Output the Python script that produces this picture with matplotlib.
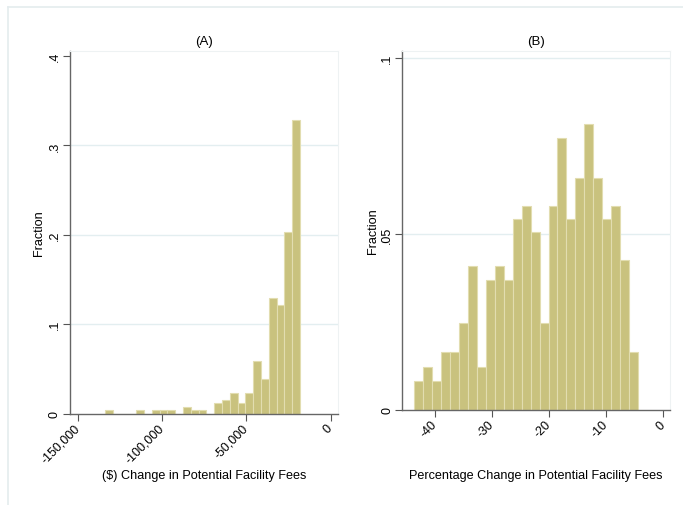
import numpy as np
import matplotlib
matplotlib.use("Agg")
import matplotlib.pyplot as plt
from matplotlib.lines import Line2D

plt.rcParams['font.family'] = ['Liberation Sans', 'DejaVu Sans']

# =========================
# data (fractions)
# =========================
# panel A: $ change, 25 bins
a_lo, a_hi = -133980, -18230
a_frac = [0.0039, 0, 0, 0, 0.0039, 0, 0.0039, 0.0039, 0.0039, 0, 0.0078, 0.0039, 0.0039,
          0, 0.0117, 0.0156, 0.0234, 0.0117, 0.0234, 0.0586, 0.0390, 0.1289, 0.1211,
          0.2031, 0.3281]
a_xticks = [-150000, -100000, -50000, 0]
a_xlabels = ['-150,000', '-100,000', '-50,000', '0']
a_yticks = [0, 0.1, 0.2, 0.3, 0.4]
a_ylabels = ['0', '.1', '.2', '.3', '.4']

# panel B: % change, 25 bins
b_lo, b_hi = -43.68, -4.44
b_frac = [0.0083, 0.0123, 0.0083, 0.0164, 0.0164, 0.0246, 0.0410, 0.0123, 0.0368,
          0.0410, 0.0368, 0.0543, 0.0580, 0.0505, 0.0246, 0.0580, 0.0774, 0.0543,
          0.0658, 0.0813, 0.0658, 0.0543, 0.0580, 0.0427, 0.0164]
b_xticks = [-40, -30, -20, -10, 0]
b_xlabels = ['-40', '-30', '-20', '-10', '0']
b_yticks = [0, 0.05, 0.1]
b_ylabels = ['0', '.05', '.1']

W, H = 683, 506
fig = plt.figure(figsize=(W / 100, H / 100), dpi=100)
fig.patch.set_facecolor('white')

# outer frame (only top/left visible)
frame_c = '#e4ecee'
fig.add_artist(Line2D([8 / W, 1], [1 - 8 / H, 1 - 8 / H], color=frame_c, lw=1.2))
fig.add_artist(Line2D([8 / W, 8 / W], [0, 1 - 8 / H], color=frame_c, lw=1.2))

bar_c = '#c9c27e'
edge_c = '#e2ddb0'
grid_c = '#e3eef0'
fs = 9


def panel(rect, lo, hi, frac, xlim, ylim, xt, xl, yt, yl, title, xlabel, grids, ylab_x):
    ax = fig.add_axes([rect[0] / W, 1 - rect[3] / H, (rect[2] - rect[0]) / W, (rect[3] - rect[1]) / H])
    edges = np.linspace(lo, hi, len(frac) + 1)
    ax.bar(edges[:-1], frac, width=edges[1] - edges[0], align='edge',
           color=bar_c, edgecolor=edge_c, linewidth=0.8, zorder=2)
    ax.set_xlim(*xlim)
    ax.set_ylim(*ylim)
    for g in grids:
        ax.axhline(g, color=grid_c, lw=1.0, zorder=1)
    ax.set_xticks(xt)
    ax.set_xticklabels(xl, rotation=45, ha='right', va='center', rotation_mode='anchor', fontsize=fs)
    ax.set_yticks(yt)
    ax.set_yticklabels(yl, rotation=90, va='center', ha='center', fontsize=fs)
    ax.tick_params(axis='x', length=5, width=0.8, color='#555555', pad=4)
    ax.tick_params(axis='y', length=5, width=0.8, color='#555555', pad=6)
    for s in ['top', 'right']:
        ax.spines[s].set_color('#eef2f3')
        ax.spines[s].set_linewidth(0.8)
    for s in ['left', 'bottom']:
        ax.spines[s].set_color('#666666')
        ax.spines[s].set_linewidth(1.0)
    ax.set_title(title, fontsize=fs + 0.5, pad=5)
    cx = (rect[0] + rect[2]) / 2 / W
    fig.text(cx, 1 - 476 / H, xlabel, fontsize=fs + 0.1, ha='center', va='center')
    cy = 1 - (rect[1] + rect[3]) / 2 / H
    fig.text(ylab_x / W, cy, 'Fraction', fontsize=fs + 0.1, rotation=90, ha='center', va='center')
    return ax


panel((70, 51.7, 338.3, 414.7), a_lo, a_hi, a_frac, (-154800, 4510), (0, 0.406),
      a_xticks, a_xlabels, a_yticks, a_ylabels, '(A)',
      '($) Change in Potential Facility Fees', [0.1, 0.2, 0.3], 39)
panel((402.3, 51.7, 670, 411), b_lo, b_hi, b_frac, (-45.79, 1.18), (0, 0.1021),
      b_xticks, b_xlabels, b_yticks, b_ylabels, '(B)',
      'Percentage Change in Potential Facility Fees', [0.05, 0.1], 373)

fig.savefig('out.png', dpi=100)
